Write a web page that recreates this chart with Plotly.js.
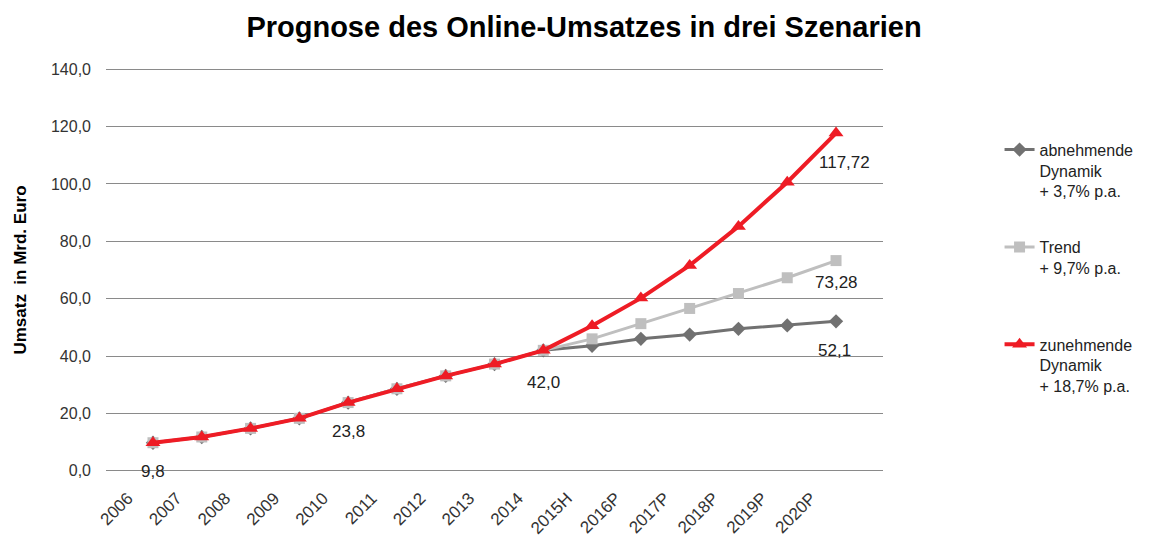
<!DOCTYPE html>
<html><head><meta charset="utf-8">
<script src="https://cdn.plot.ly/plotly-3.0.1.min.js"></script>
<style>body{margin:0;background:#fff}#c{width:1168px;height:539px}</style>
</head><body><div id="c"></div>
<script>
const categories = ["2006","2007","2008","2009","2010","2011","2012","2013","2014","2015H","2016P","2017P","2018P","2019P","2020P"];
const abnehmend = [9.8,11.8,14.8,18.3,23.8,28.6,33.1,37.2,42.0,43.6,46.0,47.5,49.5,50.7,52.1];
const trend     = [9.8,11.8,14.8,18.3,23.8,28.6,33.1,37.2,42.0,46.0,51.3,56.6,61.8,67.3,73.28];
const zunehmend = [9.8,11.8,14.8,18.3,23.8,28.6,33.1,37.2,42.0,50.6,60.2,71.6,85.2,100.6,117.72];
const yTicks = [0,20,40,60,80,100,120,140];
const seriesNames = ["abnehmende<br>Dynamik<br>+ 3,7% p.a.","Trend<br>+ 9,7% p.a.<br> ","zunehmende<br>Dynamik<br>+ 18,7% p.a."];
const dataLabels = [
  {cat:"2006", val:9.8, text:"9,8", dx:0},
  {cat:"2010", val:23.8, text:"23,8", dx:0},
  {cat:"2014", val:42.0, text:"42,0", dx:0},
  {cat:"2020P", val:52.1, text:"52,1", dx:-2},
  {cat:"2020P", val:73.28, text:"73,28", dx:0},
  {cat:"2020P", val:117.72, text:"117,72", dx:8}
];

const traces = [
  {x:categories, y:abnehmend, name:seriesNames[0], legendgroup:"a", type:"scatter", mode:"lines+markers",
   line:{color:"#717171", width:3}, marker:{symbol:"diamond", size:11, color:"#717171"}},
  {x:categories, y:trend, name:seriesNames[1], legendgroup:"b", type:"scatter", mode:"lines+markers",
   line:{color:"#bfbfbf", width:3}, marker:{symbol:"square", size:11, color:"#bfbfbf"}},
  {x:categories, y:zunehmend, name:seriesNames[2], legendgroup:"c", type:"scatter", mode:"lines+markers",
   line:{color:"#ee1c25", width:4}, marker:{symbol:"triangle-up", size:13, color:"#ee1c25"}}
];

const annotations = dataLabels.map(d => ({
  x:categories.indexOf(d.cat), y:d.val, xref:"x", yref:"y", text:d.text, showarrow:false,
  yshift:(d.text==="73,28" ? -22 : (d.text==="42,0" ? -32 : -29)), xshift:d.dx,
  font:{family:"Liberation Sans, Arial, sans-serif", size:17, color:"#222"}
}));

const layout = {
  width:1168, height:539,
  margin:{l:106, r:285, t:68, b:67, autoexpand:false},
  paper_bgcolor:"#fff", plot_bgcolor:"#fff",
  separators:",.",
  font:{family:"Liberation Sans, Arial, sans-serif", color:"#333"},
  title:{text:"<b>Prognose des Online-Umsatzes in drei Szenarien</b>", x:0.5, xanchor:"center", y:0.95, yanchor:"middle",
         font:{family:"Liberation Sans, Arial, sans-serif", size:29, color:"#000"}},
  xaxis:{type:"category", autotypenumbers:"strict", categoryorder:"array", categoryarray:categories,
         tickangle:-45, showgrid:false, zeroline:false, showline:false, ticks:"",
         ticklabelstandoff:12, ticklabelshift:-25,
         tickfont:{size:17, color:"#333"}, automargin:false},
  yaxis:{range:[-0.4,140.4], tickvals:yTicks, tickformat:".1f", showgrid:true, gridcolor:"#8a8a8a", gridwidth:1,
         zeroline:false, showline:false, ticks:"", ticklabelstandoff:14,
         tickfont:{size:16, color:"#333"}, automargin:false,
         title:{text:"<b>Umsatz  in Mrd. Euro</b>", standoff:20, font:{size:17, color:"#000"}}},
  legend:{x:1.15, xanchor:"left", y:0.84, yanchor:"top", valign:"top", tracegroupgap:32,
          font:{size:16, color:"#222"}, bgcolor:"rgba(0,0,0,0)"},
  annotations:annotations,
  showlegend:true
};
Plotly.newPlot("c", traces, layout, {displayModeBar:false, staticPlot:true});
</script></body></html>
